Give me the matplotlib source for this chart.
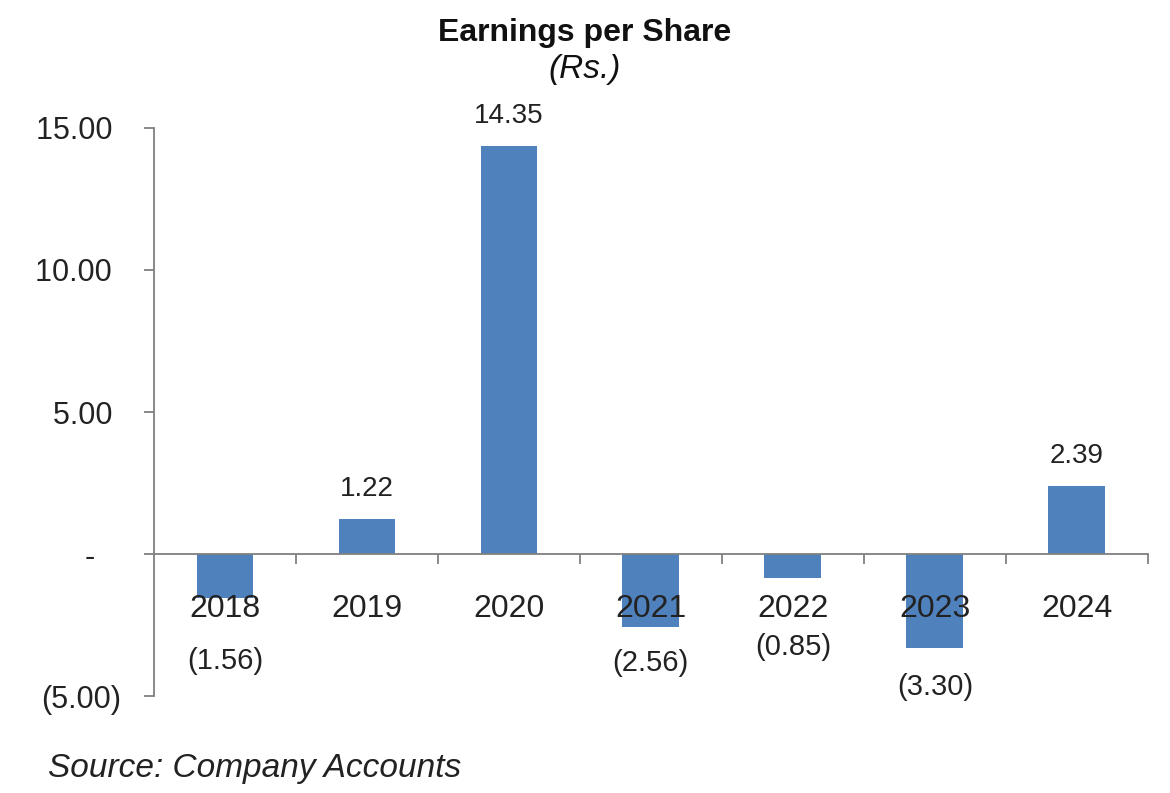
import matplotlib.pyplot as plt
from matplotlib.ticker import FixedLocator, FuncFormatter

# Data
years = ['2018', '2019', '2020', '2021', '2022', '2023', '2024']
eps = [-1.56, 1.22, 14.35, -2.56, -0.85, -3.30, 2.39]
# where the value labels of the negative bars sit (Excel moved them clear of the years)
neg_label_y = {0: -3.78, 3: -3.82, 4: -3.29, 5: -4.70}

BAR_COLOR = '#4F81BD'
AXIS_COLOR = '#808080'
TEXT_COLOR = '#222222'

plt.rcParams['font.family'] = ['Liberation Sans', 'DejaVu Sans']

fig = plt.figure(figsize=(11.7, 7.93), dpi=100)
ax = fig.add_axes([0.1316, 0.1223, 0.8494, 0.7163])

x = list(range(len(years)))
ax.bar(x, eps, width=0.40, color=BAR_COLOR, zorder=1)
ax.set_axisbelow(False)

ax.set_xlim(-0.5, len(years) - 0.5)
ax.set_ylim(-5, 15)

# spines
for side in ['top', 'right']:
    ax.spines[side].set_visible(False)
ax.spines['bottom'].set_position(('data', 0))
ax.spines['bottom'].set_color(AXIS_COLOR)
ax.spines['left'].set_color(AXIS_COLOR)
ax.spines['bottom'].set_linewidth(1.3)
ax.spines['left'].set_linewidth(1.3)


def y_fmt(v, pos):
    if abs(v) < 1e-9:
        return '-   '
    if v < 0:
        return '({:.2f})'.format(-v)
    return '{:.2f} '.format(v)


ax.yaxis.set_major_locator(FixedLocator([-5, 0, 5, 10, 15]))
ax.yaxis.set_major_formatter(FuncFormatter(y_fmt))
ax.tick_params(axis='y', which='major', length=7, width=1.3, color=AXIS_COLOR,
               labelsize=22, pad=17, labelcolor=TEXT_COLOR)

# categories: labels centred, ticks between categories
ax.set_xticks(x)
ax.set_xticklabels(years)
ax.set_xticks([i + 0.5 for i in x], minor=True)
ax.tick_params(axis='x', which='major', length=0, labelsize=23, pad=29,
               labelcolor=TEXT_COLOR)
ax.tick_params(axis='x', which='minor', length=7, width=1.3, color=AXIS_COLOR,
               direction='out')

# value labels
for i, v in enumerate(eps):
    if v >= 0:
        ax.annotate('{:.2f}'.format(v), (i, v), xytext=(0, 22),
                    textcoords='offset points', ha='center', va='center',
                    fontsize=20, color=TEXT_COLOR)
    else:
        ax.text(i, neg_label_y[i], '({:.2f})'.format(-v), ha='center',
                va='center', fontsize=21, color=TEXT_COLOR)

# titles
fig.text(0.5, 0.958, 'Earnings per Share', ha='center', va='center',
         fontsize=23, fontweight='bold', color='#111111')
fig.text(0.5, 0.912, '(Rs.)', ha='center', va='center', fontsize=24,
         fontstyle='italic', color='#111111')

fig.text(0.041, 0.031, 'Source: Company Accounts', ha='left', va='center',
         fontsize=24, fontstyle='italic', color=TEXT_COLOR)

fig.savefig('out.png', dpi=100)
